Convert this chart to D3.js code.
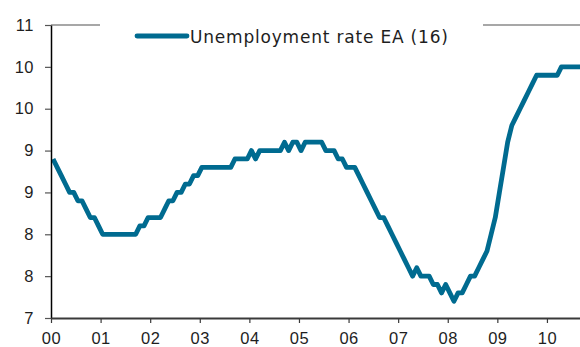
<!DOCTYPE html>
<html>
<head>
<meta charset="utf-8">
<script src="https://cdn.jsdelivr.net/npm/d3@7"></script>
<style>
  html, body { margin: 0; padding: 0; background: #fff; }
  svg { display: block; font-family: "DejaVu Sans", "Noto Sans", sans-serif; }
</style>
</head>
<body>
<svg id="chart" width="580" height="347"></svg>
<script>
// Euro area (16) unemployment rate, monthly, Jan 2000 onwards (%)
const startYear = 2000;
const unemployment = [
  8.9, 8.8, 8.7, 8.6, 8.5, 8.5, 8.4, 8.4, 8.3, 8.2, 8.2, 8.1,   // 2000
  8.0, 8.0, 8.0, 8.0, 8.0, 8.0, 8.0, 8.0, 8.0, 8.1, 8.1, 8.2,   // 2001
  8.2, 8.2, 8.2, 8.3, 8.4, 8.4, 8.5, 8.5, 8.6, 8.6, 8.7, 8.7,   // 2002
  8.8, 8.8, 8.8, 8.8, 8.8, 8.8, 8.8, 8.8, 8.9, 8.9, 8.9, 8.9,   // 2003
  9.0, 8.9, 9.0, 9.0, 9.0, 9.0, 9.0, 9.0, 9.1, 9.0, 9.1, 9.1,   // 2004
  9.0, 9.1, 9.1, 9.1, 9.1, 9.1, 9.0, 9.0, 9.0, 8.9, 8.9, 8.8,   // 2005
  8.8, 8.8, 8.7, 8.6, 8.5, 8.4, 8.3, 8.2, 8.2, 8.1, 8.0, 7.9,   // 2006
  7.8, 7.7, 7.6, 7.5, 7.6, 7.5, 7.5, 7.5, 7.4, 7.4, 7.3, 7.4,   // 2007
  7.3, 7.2, 7.3, 7.3, 7.4, 7.5, 7.5, 7.6, 7.7, 7.8, 8.0, 8.2,   // 2008
  8.5, 8.8, 9.1, 9.3, 9.4, 9.5, 9.6, 9.7, 9.8, 9.9, 9.9, 9.9,   // 2009
  9.9, 9.9, 9.9, 10.0, 10.0, 10.0, 10.0, 10.0, 10.0             // 2010
];
const seriesName = "Unemployment rate EA (16)";

const xTickValues = [2000, 2001, 2002, 2003, 2004, 2005, 2006, 2007, 2008, 2009, 2010];
const xTickLabels = ["00", "01", "02", "03", "04", "05", "06", "07", "08", "09", "10"];
const yTickValues = [7, 7.5, 8, 8.5, 9, 9.5, 10, 10.5];
const yTickLabels = ["7", "8", "8", "9", "9", "10", "10", "11"];

const lineColor = "#006b90";
const textColor = "#1e1e1e";

const svg = d3.select("#chart");
const W = 580, H = 347;
const margin = { top: 25, right: 0, bottom: 29, left: 51 };

// monthly points sit mid-month
const points = unemployment.map((v, i) => ({ t: startYear + (i + 0.5) / 12, v }));

const x = d3.scaleLinear()
  .domain([2000, 2010 + 8 / 12])
  .range([margin.left, W - margin.right]);
const y = d3.scaleLinear()
  .domain([7, 10.5])
  .range([H - margin.bottom, margin.top]);

// top rule at the upper bound of the value axis
svg.append("line")
  .attr("x1", x.range()[0]).attr("x2", x.range()[1])
  .attr("y1", y(10.5)).attr("y2", y(10.5))
  .attr("stroke", "#8a8a8a").attr("stroke-width", 1.5);

// clip the series to the plotting area
svg.append("clipPath").attr("id", "plot")
  .append("rect")
  .attr("x", x.range()[0]).attr("y", 0)
  .attr("width", x.range()[1] - x.range()[0]).attr("height", y(7));

svg.append("path")
  .datum(points)
  .attr("clip-path", "url(#plot)")
  .attr("fill", "none")
  .attr("stroke", lineColor)
  .attr("stroke-width", 4.8)
  .attr("stroke-linejoin", "round")
  .attr("d", d3.line().x(d => x(d.t)).y(d => y(d.v)));

// value axis
const yAxis = svg.append("g")
  .attr("transform", `translate(${x.range()[0]},0)`)
  .call(d3.axisLeft(y)
    .tickValues(yTickValues)
    .tickFormat((d, i) => yTickLabels[i])
    .tickSize(6).tickSizeOuter(0).tickPadding(11));
yAxis.select(".domain").attr("stroke", "#000").attr("stroke-width", 1.5);
yAxis.selectAll(".tick line").attr("stroke", "#555").attr("stroke-width", 1.2);
yAxis.selectAll("text")
  .attr("fill", textColor)
  .style("font-size", "16.5px")
  .style("letter-spacing", "0.5px");

// time axis
const xAxis = svg.append("g")
  .attr("transform", `translate(0,${y(7)})`)
  .call(d3.axisBottom(x)
    .tickValues(xTickValues)
    .tickFormat((d, i) => xTickLabels[i])
    .tickSize(5).tickSizeOuter(0).tickPadding(9));
xAxis.select(".domain").attr("stroke", "#3a3a3a").attr("stroke-width", 1.8);
xAxis.selectAll(".tick line").attr("stroke", "#3a3a3a").attr("stroke-width", 1.2);
xAxis.selectAll("text")
  .attr("fill", textColor)
  .style("font-size", "16.5px")
  .style("letter-spacing", "0.5px");

// legend, on a white panel that interrupts the top rule
const legend = svg.append("g");
legend.append("rect")
  .attr("x", 100).attr("y", 12).attr("width", 383).attr("height", 40)
  .attr("fill", "#fff");
legend.append("line")
  .attr("x1", 137).attr("x2", 187)
  .attr("y1", 36).attr("y2", 36)
  .attr("stroke", lineColor).attr("stroke-width", 4.8)
  .attr("stroke-linecap", "round");
legend.append("text")
  .attr("x", 190).attr("y", 43)
  .attr("fill", textColor)
  .style("font-size", "17px")
  .style("letter-spacing", "0.8px")
  .text(seriesName);
</script>
</body>
</html>
